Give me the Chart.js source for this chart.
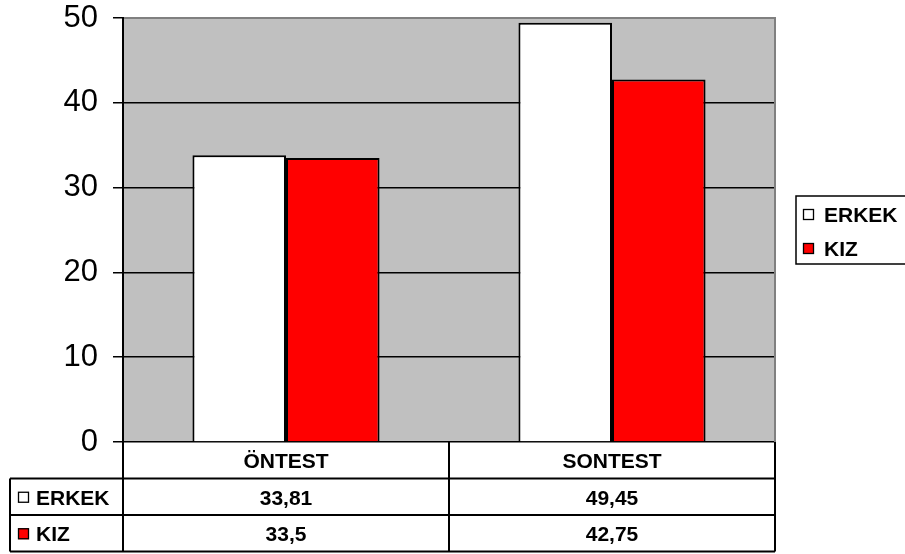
<!DOCTYPE html>
<html>
<head>
<meta charset="utf-8">
<script src="https://cdn.jsdelivr.net/npm/chart.js@4/dist/chart.umd.min.js"></script>
<style>
  html, body { margin: 0; padding: 0; background: #ffffff; }
  canvas { display: block; }
</style>
</head>
<body>
<canvas id="chart" width="905" height="554"></canvas>
<script>
// Test categories and group scores
const categories = ['ÖNTEST', 'SONTEST'];
const seriesNames = ['ERKEK', 'KIZ'];
const erkekValues = [33.81, 49.45];
const kizValues = [33.5, 42.75];
const yMin = 0;
const yMax = 50;
const yStep = 10;

const seriesColors = ['#FFFFFF', '#FF0000'];
const FONT = '"Liberation Sans", Arial, sans-serif';

function fmt(v) {
  return String(v).replace('.', ',');
}

// Gray plot background with gray top/right frame
const plotFrame = {
  id: 'plotFrame',
  beforeDraw(chart) {
    const { ctx, chartArea: a } = chart;
    ctx.save();
    ctx.fillStyle = '#C0C0C0';
    ctx.fillRect(a.left, a.top, a.right - a.left, a.bottom - a.top);
    ctx.restore();
  },
  beforeDatasetsDraw(chart) {
    const { ctx, chartArea: a } = chart;
    ctx.save();
    ctx.strokeStyle = '#808080';
    ctx.lineWidth = 2;
    ctx.beginPath();
    ctx.moveTo(a.left + 1, a.top);
    ctx.lineTo(a.right, a.top);
    ctx.lineTo(a.right, a.bottom);
    ctx.stroke();
    ctx.restore();
  }
};

function drawKey(ctx, x, y, color) {
  ctx.fillStyle = color;
  ctx.fillRect(x, y, 11, 11);
  ctx.strokeStyle = '#000';
  ctx.lineWidth = 1.3;
  ctx.strokeRect(x + 0.5, y + 0.5, 10, 10);
}

// Data table under the x axis, plus the legend box on the right
const dataTable = {
  id: 'dataTable',
  afterDraw(chart) {
    const { ctx, chartArea: a } = chart;
    const xs = chart.scales.x;
    const n = categories.length;
    const catW = (a.right - a.left) / n;
    const rowH = 36.5;
    const top = a.bottom;
    const r1 = top + rowH, r2 = r1 + rowH, r3 = r2 + rowH;
    const tableLeft = 10;

    ctx.save();
    ctx.strokeStyle = '#000';
    ctx.lineWidth = 2;
    ctx.beginPath();
    // horizontal lines
    ctx.moveTo(tableLeft, r1); ctx.lineTo(a.right, r1);
    ctx.moveTo(tableLeft, r2); ctx.lineTo(a.right, r2);
    ctx.moveTo(tableLeft, r3); ctx.lineTo(a.right, r3);
    // vertical lines
    ctx.moveTo(tableLeft, r1); ctx.lineTo(tableLeft, r3);
    for (let i = 0; i <= n; i++) {
      const x = a.left + catW * i;
      ctx.moveTo(x, top); ctx.lineTo(x, r3);
    }
    ctx.stroke();

    ctx.fillStyle = '#000';
    ctx.font = 'bold 21px ' + FONT;
    ctx.textAlign = 'center';
    ctx.textBaseline = 'alphabetic';
    const rows = [erkekValues, kizValues];
    categories.forEach((c, i) => {
      const cx = xs.getPixelForValue(i);
      ctx.fillText(c, cx, top + rowH / 2 + 8);
      rows.forEach((vals, j) => {
        const rTop = r1 + rowH * j;
        ctx.fillText(fmt(vals[i]), cx, rTop + rowH / 2 + 8);
      });
    });

    ctx.textAlign = 'left';
    seriesNames.forEach((name, j) => {
      const rTop = r1 + rowH * j;
      drawKey(ctx, 18, rTop + rowH / 2 - 5, seriesColors[j]);
      ctx.fillStyle = '#000';
      ctx.fillText(name, 36, rTop + rowH / 2 + 8);
    });

    // legend
    const lx = 796, ly = 196, lw = 112, lh = 68;
    ctx.lineWidth = 1.5;
    ctx.strokeStyle = '#000';
    ctx.strokeRect(lx, ly, lw, lh);
    seriesNames.forEach((name, j) => {
      const yy = ly + 13 + j * 34;
      drawKey(ctx, 803, yy, seriesColors[j]);
      ctx.fillStyle = '#000';
      ctx.fillText(name, 824, yy + 13);
    });
    ctx.restore();
  }
};

new Chart(document.getElementById('chart'), {
  type: 'bar',
  data: {
    labels: categories,
    datasets: [
      {
        label: seriesNames[0],
        data: erkekValues,
        backgroundColor: seriesColors[0],
        borderColor: '#000',
        borderWidth: 2
      },
      {
        label: seriesNames[1],
        data: kizValues,
        backgroundColor: seriesColors[1],
        borderColor: '#000',
        borderWidth: 2
      }
    ]
  },
  options: {
    responsive: false,
    devicePixelRatio: 1,
    animation: false,
    categoryPercentage: 0.574,
    barPercentage: 1,
    layout: { padding: { top: 0, right: 130, bottom: 112, left: 0 } },
    plugins: {
      legend: { display: false },
      tooltip: { enabled: false }
    },
    scales: {
      x: {
        type: 'category',
        display: false,
        offset: true
      },
      y: {
        min: yMin,
        max: yMax,
        afterFit(scale) { scale.width = 123; scale.paddingTop = 18; },
        ticks: {
          stepSize: yStep,
          color: '#000',
          padding: 15,
          font: { family: FONT, size: 31 }
        },
        grid: {
          color: '#000',
          lineWidth: 1.5,
          tickLength: 10,
          drawTicks: true
        },
        border: { display: true, color: '#000', width: 2 }
      }
    }
  },
  plugins: [plotFrame, dataTable]
});
</script>
</body>
</html>
